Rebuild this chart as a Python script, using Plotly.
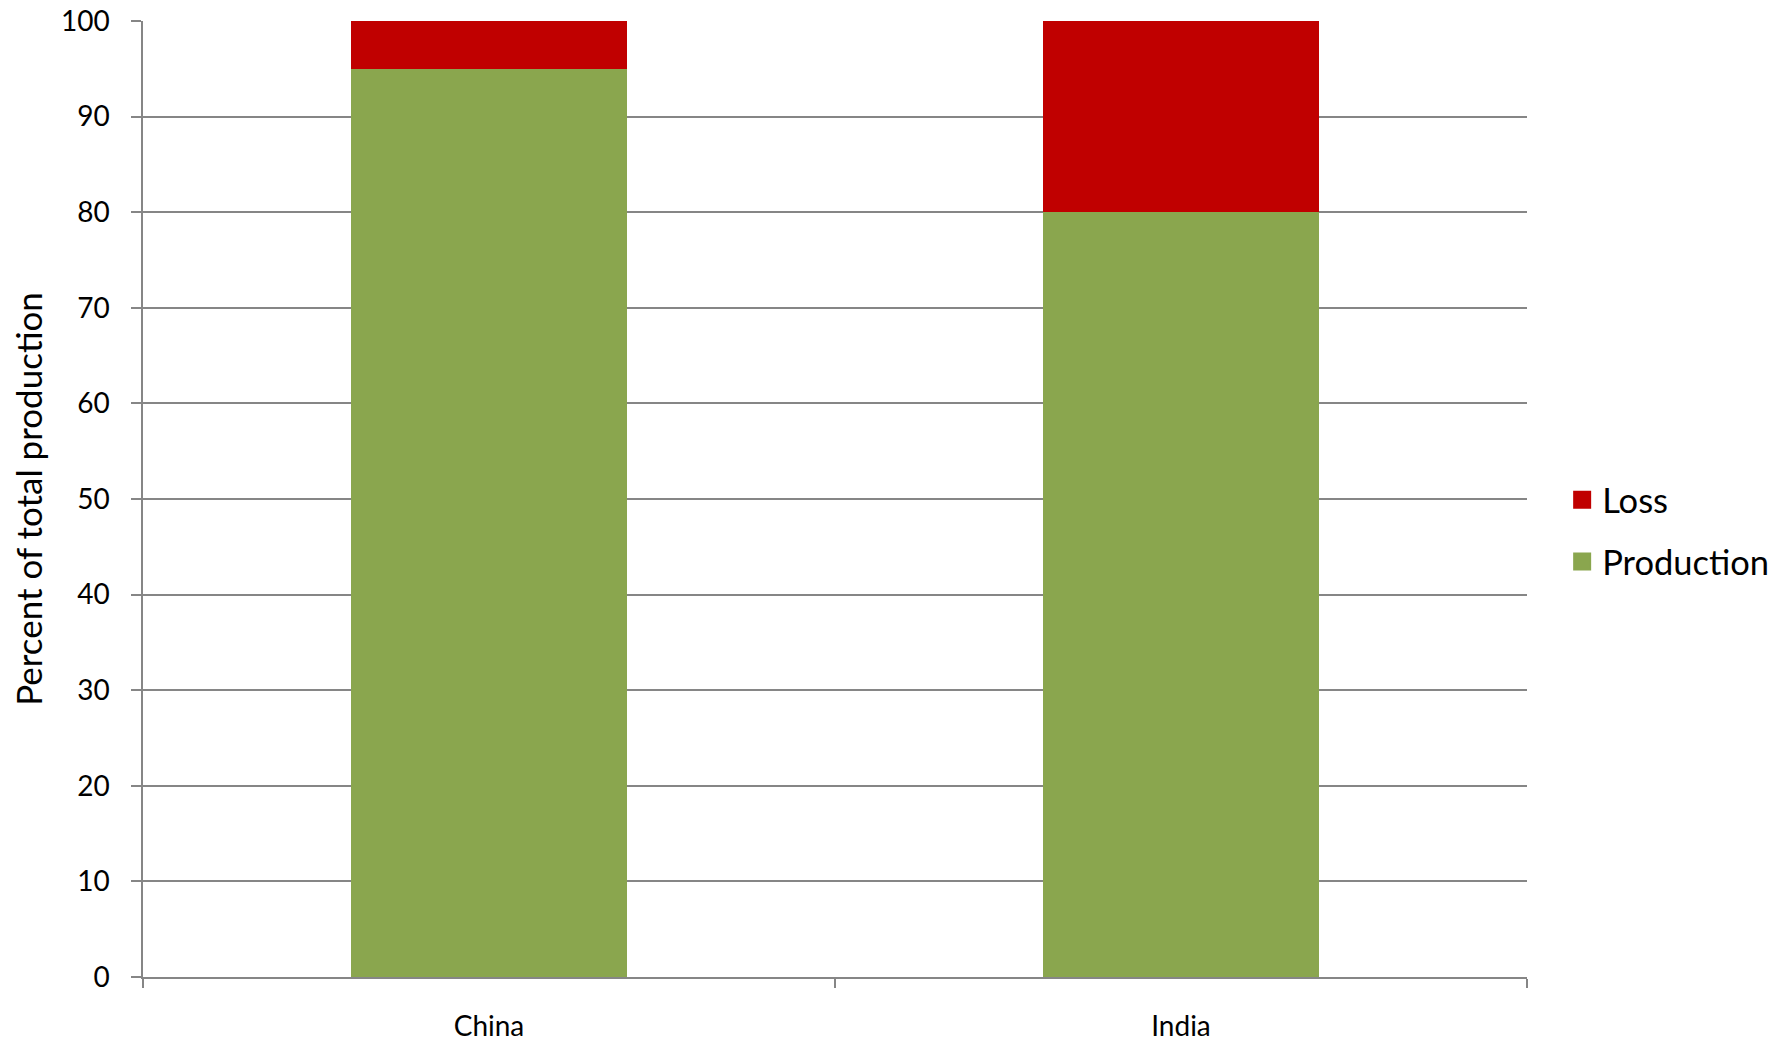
import plotly.graph_objects as go

countries = ["China", "India"]
production = [95, 80]
loss = [5, 20]
y_ticks = [0, 10, 20, 30, 40, 50, 60, 70, 80, 90, 100]

GRID = "#868686"
FONT = "Lato, 'Open Sans', sans-serif"
C_PROD = "#8AA64E"
C_LOSS = "#C00000"

fig = go.Figure()
fig.add_trace(go.Bar(x=countries, y=production, name="Production",
                     marker=dict(color=C_PROD, line=dict(width=0)),
                     showlegend=False))
fig.add_trace(go.Bar(x=countries, y=loss, name="Loss",
                     marker=dict(color=C_LOSS, line=dict(width=0)),
                     showlegend=False))
# legend entries (larger square swatches)
fig.add_trace(go.Scatter(x=[countries[0]], y=[None], mode="markers", name="Loss",
                         marker=dict(symbol="square", size=16, color=C_LOSS,
                                     line=dict(width=2, color=C_LOSS)),
                         legendgroup="l", legendrank=1, hoverinfo="skip"))
fig.add_trace(go.Scatter(x=[countries[0]], y=[None], mode="markers", name="Production",
                         marker=dict(symbol="square", size=16, color=C_PROD,
                                     line=dict(width=2, color=C_PROD)),
                         legendgroup="p", legendrank=2, hoverinfo="skip"))

fig.update_layout(
    width=1785, height=1043,
    barmode="stack", bargap=0.6,
    plot_bgcolor="white", paper_bgcolor="white",
    margin=dict(l=143, r=258, t=21, b=66, autoexpand=False),
    font=dict(family=FONT, color="black"),
    showlegend=True,
    legend=dict(x=1.0254, y=0.4667, xanchor="left", yanchor="middle",
                xref="paper", yref="paper",
                traceorder="grouped", tracegroupgap=14,
                font=dict(size=34.5, color="black"), bgcolor="rgba(0,0,0,0)"),
    xaxis=dict(showline=True, linecolor=GRID, linewidth=1.5,
               ticks="outside", tickson="boundaries", ticklen=9, tickcolor=GRID,
               tickwidth=1.5, tickfont=dict(size=28), ticklabelstandoff=24,
               showgrid=False, automargin=False),
    yaxis=dict(range=[0, 100], tickvals=y_ticks, ticktext=[str(v) for v in y_ticks],
               showline=True, linecolor=GRID, linewidth=1.5,
               ticks="outside", ticklen=10, tickcolor=GRID, tickwidth=1.5,
               showgrid=True, gridcolor=GRID, gridwidth=1.5,
               zeroline=False, tickfont=dict(size=28), ticklabelstandoff=16,
               title=dict(text="Percent of total production", font=dict(size=35),
                          standoff=8),
               automargin=False),
)

fig.write_html("out.html")
